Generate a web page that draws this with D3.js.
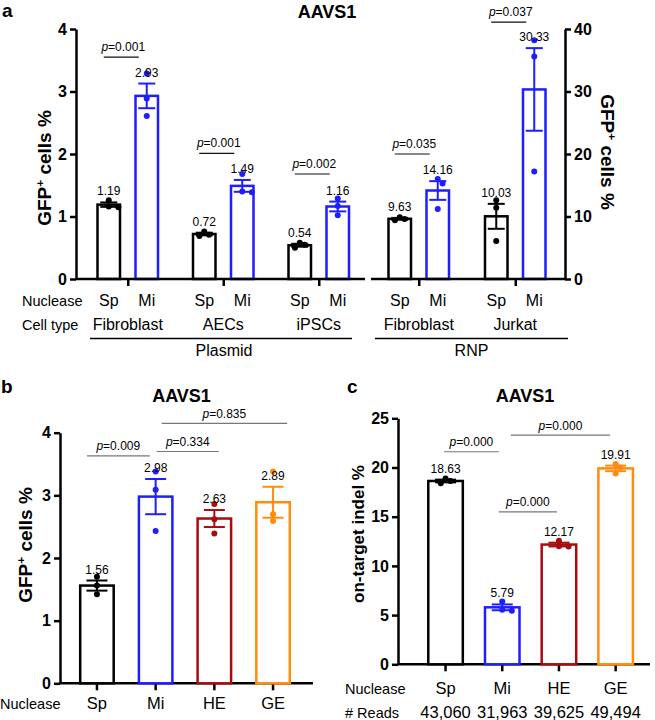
<!DOCTYPE html>
<html><head><meta charset="utf-8">
<script src="https://cdn.jsdelivr.net/npm/d3@7"></script>
<style>body{margin:0;background:#fff}svg{display:block}text{font-family:"Liberation Sans",Arial,Helvetica,sans-serif;fill:#000}</style>
</head><body><svg id="chart" width="655" height="720"></svg>
<script>
// ---------------- DATA ----------------
const nucleasesA = ["Sp", "Mi"];
const plasmidCells = ["Fibroblast", "AECs", "iPSCs"];
const rnpCells = ["Fibroblast", "Jurkat"];
const plasmidSpMeans = [1.19, 0.72, 0.54];
const plasmidMiMeans = [2.93, 1.49, 1.16];
const rnpSpMeans = [9.63, 10.03];
const rnpMiMeans = [14.16, 30.33];
const plasmidSpDots = [[1.26, 1.16, 1.15], [0.76, 0.71, 0.69], [0.58, 0.55, 0.50]];
const plasmidMiDots = [[3.29, 2.89, 2.61], [1.68, 1.40, 1.39], [1.29, 1.17, 1.02]];
const rnpSpDots = [[9.9, 9.6, 9.4], [12.6, 11.4, 6.1]];
const rnpMiDots = [[16.0, 15.3, 11.2], [38.2, 35.6, 17.2]];
const plasmidPValues = ["0.001", "0.001", "0.002"];
const rnpPValues = ["0.035", "0.037"];
const plasmidPLevels = [3.55, 2.01, 1.68];   // left axis units
const rnpPLevels = [20.0, 41.1];             // right axis units
const deliveryGroups = ["Plasmid", "RNP"];
const aLeftTicks = [0, 1, 2, 3, 4];
const aRightTicks = [0, 10, 20, 30, 40];

const nucleasesB = ["Sp", "Mi", "HE", "GE"];
const bMeans = [1.56, 2.98, 2.63, 2.89];
const bDots = [[1.70, 1.56, 1.42], [3.38, 3.09, 2.43], [2.86, 2.62, 2.39], [3.38, 2.70, 2.59]];
const bTicks = [0, 1, 2, 3, 4];
const bPairs = [["Sp", "Mi"], ["Mi", "HE"], ["Mi", "GE"]];
const bPValues = ["0.009", "0.334", "0.835"];
const bPLevels = [3.63, 3.70, 4.15];

const nucleasesC = ["Sp", "Mi", "HE", "GE"];
const cMeans = [18.63, 5.79, 12.17, 19.91];
const cDots = [[18.88, 18.62, 18.40], [6.38, 5.55, 5.45], [12.55, 12.00, 11.96], [20.35, 20.00, 19.38]];
const cReads = ["43,060", "31,963", "39,625", "49,494"];
const cTicks = [0, 5, 10, 15, 20, 25];
const cPairs = [["Sp", "Mi"], ["Mi", "GE"], ["Mi", "HE"]];
const cPValues = ["0.000", "0.000", "0.000"];
const cPLevels = [21.6, 23.3, 15.5];

// ---------------- STYLE / LAYOUT ----------------
const colors = { Sp: "#000000", Mi: "#1e1eff", HE: "#a80c0c", GE: "#ff8c0f" };
const bBracketOffsets = [[-10, -6], [1, 4.5], [6, 14]];
const cBracketOffsets = [[-1.5, -3.5], [8.5, -5.5], [-3.5, -2]];
const AX = 2.5;
const svg = d3.select("#chart");

const sem = a => { const m = d3.mean(a); return Math.sqrt(d3.sum(a, v => (v - m) * (v - m)) / (a.length - 1) / a.length); };

function swarm(vals, y, r) {
  const placed = [];
  return vals.map(v => {
    const py = y(v);
    const offs = [0];
    for (let k = 1; k < 8; k++) { offs.push(k * r * 1.6, -k * r * 1.6); }
    let ox = 0;
    for (const o of offs) {
      if (placed.every(p => Math.hypot(p[0] - o, p[1] - py) >= r * 1.7)) { ox = o; break; }
    }
    placed.push([ox, py]);
    return [ox, py];
  });
}

function drawBar(g, cx, bw, y, mean, dots, color, capW, labelFmt) {
  const err = sem(dots);
  g.append("rect").attr("x", cx - bw / 2 + AX / 2).attr("width", bw - AX)
    .attr("y", y(mean)).attr("height", y(0) - y(mean))
    .attr("fill", "#fff").attr("stroke", color).attr("stroke-width", AX);
  const pts = swarm(dots, y, 3);
  g.selectAll(null).data(pts).join("circle")
    .attr("cx", d => cx + d[0]).attr("cy", d => d[1]).attr("r", 3).attr("fill", color);
  const e = g.append("g").attr("stroke", color).attr("stroke-width", 2);
  e.append("line").attr("x1", cx).attr("x2", cx).attr("y1", y(mean - err)).attr("y2", y(mean + err));
  e.append("line").attr("x1", cx - capW / 2).attr("x2", cx + capW / 2).attr("y1", y(mean - err)).attr("y2", y(mean - err));
  e.append("line").attr("x1", cx - capW / 2).attr("x2", cx + capW / 2).attr("y1", y(mean + err)).attr("y2", y(mean + err));
  g.append("text").attr("x", cx).attr("y", y(mean + err) - 7).attr("text-anchor", "middle")
    .attr("font-size", 12).text(labelFmt(mean));
}

function pText(g, x, yy, p) {
  const t = g.append("text").attr("x", x).attr("y", yy).attr("text-anchor", "middle").attr("font-size", 12);
  t.append("tspan").attr("font-style", "italic").text("p");
  t.append("tspan").text("=" + p);
}

function styleAxis(sel, fs) {
  sel.select(".domain").attr("stroke-width", AX);
  sel.selectAll(".tick line").attr("stroke-width", AX);
  sel.selectAll(".tick text").attr("font-size", fs).attr("font-weight", "bold")
    .attr("font-family", "'Liberation Sans',Arial,sans-serif").attr("fill", "#000");
}

function yTitle(x, y, rot, parts, fs) {
  const t = svg.append("text").attr("transform", `translate(${x},${y}) rotate(${rot})`)
    .attr("text-anchor", "middle").attr("font-size", fs).attr("font-weight", "bold");
  parts.forEach(p => {
    const s = t.append("tspan").text(p.t);
    if (p.sup) s.attr("font-size", fs * 0.62).attr("dy", -fs * 0.38);
    if (p.down) s.attr("dy", fs * 0.38);
  });
}
const gfpParts = [{ t: "GFP" }, { t: "+", sup: true }, { t: " cells %", down: true }];

const fmt2 = d3.format(".2f");

// ---------------- PANEL A ----------------
{
  const g = svg.append("g");
  const yL = d3.scaleLinear().domain([0, 4]).range([279, 29]);
  const yR = d3.scaleLinear().domain([0, 40]).range([279, 29]);
  const xP = d3.scalePoint().domain(plasmidCells).range([80, 366.5]).padding(0.5);
  const xR = d3.scalePoint().domain(rnpCells).range([370.5, 563.5]).padding(0.5);
  const inner = d3.scaleBand().domain(nucleasesA).range([-31.5, 31.5]).paddingInner(13 / 38);
  const bw = inner.bandwidth();
  const ic = n => inner(n) + bw / 2;

  // axes
  const axL = g.append("g").attr("transform", "translate(76,0)")
    .call(d3.axisLeft(yL).tickValues(aLeftTicks).tickFormat(d3.format("d")).tickSize(6).tickPadding(3).tickSizeOuter(0));
  styleAxis(axL, 16);
  const axR = g.append("g").attr("transform", "translate(565,0)")
    .call(d3.axisRight(yR).tickValues(aRightTicks).tickFormat(d3.format("d")).tickSize(6).tickPadding(3).tickSizeOuter(0));
  styleAxis(axR, 16);

  const groups = [
    { x: xP, cells: plasmidCells, sp: plasmidSpMeans, mi: plasmidMiMeans, spd: plasmidSpDots, mid: plasmidMiDots, y: yL, p: plasmidPValues, lv: plasmidPLevels, seg: [76, 365] },
    { x: xR, cells: rnpCells, sp: rnpSpMeans, mi: rnpMiMeans, spd: rnpSpDots, mid: rnpMiDots, y: yR, p: rnpPValues, lv: rnpPLevels, seg: [371, 565] }
  ];
  groups.forEach((G, gi) => {
    G.cells.forEach((c, i) => {
      const cx = G.x(c);
      drawBar(g, cx + ic("Sp"), bw, G.y, G.sp[i], G.spd[i], colors.Sp, 17, fmt2);
      drawBar(g, cx + ic("Mi"), bw, G.y, G.mi[i], G.mid[i], colors.Mi, 17, fmt2);
      // p bracket
      const x1 = cx + ic("Sp") - 5, x2 = cx + ic("Mi") - 8, ly = G.y(G.lv[i]);
      g.append("line").attr("x1", x1).attr("x2", x2).attr("y1", ly).attr("y2", ly).attr("stroke", "#111").attr("stroke-width", 1.2);
      pText(g, (x1 + x2) / 2 + 2, ly - 6, G.p[i]);
      // nuclease labels
      nucleasesA.forEach(n => g.append("text").attr("x", cx + ic(n)).attr("y", 306).attr("text-anchor", "middle").attr("font-size", 16).text(n));
      g.append("text").attr("x", cx).attr("y", 330).attr("text-anchor", "middle").attr("font-size", 16).text(c);
    });
    // x axis segment + ticks
    const ax = g.append("g").attr("transform", "translate(0,279)")
      .call(d3.axisBottom(G.x).tickSize(7).tickFormat("").tickSizeOuter(0));
    ax.select(".domain").remove();
    ax.selectAll(".tick line").attr("stroke-width", AX);
    g.append("line").attr("x1", G.seg[0]).attr("x2", G.seg[1]).attr("y1", 279).attr("y2", 279).attr("stroke", "#000").attr("stroke-width", AX);
  });
  // delivery underlines
  const under = [[90, 352, 224], [375, 568, 471.5]];
  deliveryGroups.forEach((d, i) => {
    g.append("line").attr("x1", under[i][0]).attr("x2", under[i][1]).attr("y1", 338.5).attr("y2", 338.5).attr("stroke", "#000").attr("stroke-width", 1.5);
    g.append("text").attr("x", under[i][2]).attr("y", 356).attr("text-anchor", "middle").attr("font-size", 16).text(d);
  });
  g.append("text").attr("x", 22).attr("y", 306).attr("font-size", 14.5).text("Nuclease");
  g.append("text").attr("x", 22).attr("y", 330).attr("font-size", 14.5).text("Cell type");
  g.append("text").attr("x", 327).attr("y", 18).attr("text-anchor", "middle").attr("font-size", 18).attr("font-weight", "bold").text("AAVS1");
  g.append("text").attr("x", 2).attr("y", 17).attr("font-size", 19).attr("font-weight", "bold").text("a");
  yTitle(51, 168, -90, gfpParts, 19);
  yTitle(601, 152, 90, gfpParts, 19);
}

// ---------------- PANEL B / C ----------------
function simplePanel(o) {
  const g = svg.append("g");
  const y = d3.scaleLinear().domain(o.domain).range([o.y0, o.y1]);
  const x = d3.scaleBand().domain(o.cats).range(o.xr).paddingInner(o.pad).paddingOuter(o.pad / 2);
  const bw = x.bandwidth();
  const cx = c => x(c) + bw / 2;
  const ay = g.append("g").attr("transform", `translate(${o.ax},0)`)
    .call(d3.axisLeft(y).tickValues(o.ticks).tickFormat(d3.format("d")).tickSize(6).tickPadding(3).tickSizeOuter(0));
  styleAxis(ay, 16);
  const axb = g.append("g").attr("transform", `translate(0,${o.y0})`)
    .call(d3.axisBottom(x).tickSize(7).tickFormat("").tickSizeOuter(0));
  axb.select(".domain").remove();
  axb.selectAll(".tick line").attr("stroke-width", AX);
  g.append("line").attr("x1", o.ax).attr("x2", o.xEnd).attr("y1", o.y0).attr("y2", o.y0).attr("stroke", "#000").attr("stroke-width", AX);
  o.cats.forEach((c, i) => {
    drawBar(g, cx(c), bw, y, o.means[i], o.dots[i], colors[c], 21, fmt2);
    g.append("text").attr("x", cx(c)).attr("y", o.labY).attr("text-anchor", "middle").attr("font-size", 16.5).text(c);
  });
  o.pairs.forEach((pr, i) => {
    const x1 = cx(pr[0]) + o.offs[i][0], x2 = cx(pr[1]) + o.offs[i][1], ly = y(o.levels[i]);
    g.append("line").attr("x1", x1).attr("x2", x2).attr("y1", ly).attr("y2", ly).attr("stroke", "#777").attr("stroke-width", 1.2);
    pText(g, (x1 + x2) / 2, ly - 5.5, o.pv[i]);
  });
  g.append("text").attr("x", o.nucX).attr("y", o.labY).attr("font-size", 14.5).text("Nuclease");
  g.append("text").attr("x", o.titleX).attr("y", 402).attr("text-anchor", "middle").attr("font-size", 18).attr("font-weight", "bold").text("AAVS1");
  g.append("text").attr("x", o.letterX).attr("y", 393).attr("font-size", 19).attr("font-weight", "bold").text(o.letter);
  return { g, cx };
}

simplePanel({
  domain: [0, 4], y0: 683.3, y1: 432.7, cats: nucleasesB, xr: [67.6, 302.4], pad: 0.387, ax: 60, xEnd: 313,
  ticks: bTicks, means: bMeans, dots: bDots, labY: 709, pairs: bPairs, offs: bBracketOffsets, levels: bPLevels, pv: bPValues,
  nucX: 0, titleX: 181.5, letterX: 1, letter: "b"
});
yTitle(32, 545, -90, gfpParts, 19);

const pc = simplePanel({
  domain: [0, 25], y0: 664.3, y1: 418.3, cats: nucleasesC, xr: [417.2, 644], pad: 0.347, ax: 398, xEnd: 650,
  ticks: cTicks, means: cMeans, dots: cDots, labY: 693.5, pairs: cPairs, offs: cBracketOffsets, levels: cPLevels, pv: cPValues,
  nucX: 345, titleX: 525, letterX: 347, letter: "c"
});
nucleasesC.forEach((c, i) => pc.g.append("text").attr("x", pc.cx(c)).attr("y", 717.5).attr("text-anchor", "middle").attr("font-size", 16.5).text(cReads[i]));
pc.g.append("text").attr("x", 345).attr("y", 717.5).attr("font-size", 14.5).text("# Reads");
svg.append("text").attr("transform", "translate(364,534) rotate(-90)").attr("text-anchor", "middle")
  .attr("font-size", 17).attr("font-weight", "bold").text("on-target indel %");
</script>
</body></html>
